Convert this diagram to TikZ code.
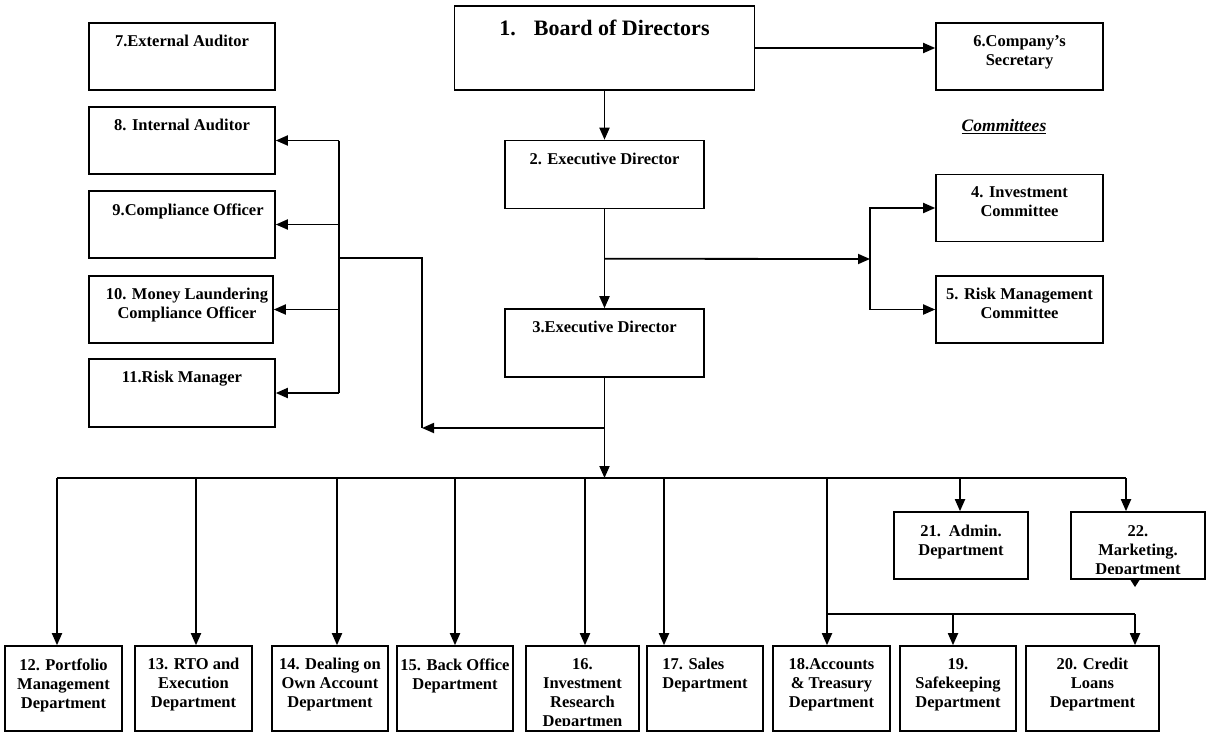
\documentclass[tikz,border=0pt]{standalone}
\usepackage{fontspec}
\setmainfont{Liberation Serif}
\usetikzlibrary{positioning, calc, arrows.meta}
\tikzset{
    orgbox/.style={rectangle, draw=black, line width=1.6pt, fill=white, inner sep=0pt},
    topbox/.style={orgbox, minimum width=186pt, minimum height=67pt},
    midbox/.style={orgbox, minimum width=199pt, minimum height=68pt},
    combox/.style={orgbox, minimum width=167pt, minimum height=67pt},
    depbox/.style={orgbox, minimum width=116pt, minimum height=85pt},
    sidebox/.style={orgbox, minimum width=134pt, minimum height=67pt},
    lbl/.style={anchor=north, align=center, inner sep=0pt, yshift=-13pt, font=\bfseries\fontsize{16.5}{19}\selectfont},
    wire/.style={line width=1.8pt, color=black},
    arrow/.style={wire, -{Triangle[length=12pt,width=10pt]}},
}

\begin{document}
\begin{tikzpicture}[x=1pt, y=-1pt]
    \useasboundingbox (0,0) rectangle (1207,734);

    % Vertice
    \node[orgbox, minimum width=300pt, minimum height=84pt,
          label={[lbl, font=\bfseries\fontsize{22}{26}\selectfont, yshift=-2pt]north:{1.\hspace{18pt}Board of Directors}}] (board) at (604.5,48) {};
    \node[combox, label={[lbl]north:{6.Company’s\\Secretary}}] (secr) at (1019.5,56.5) {};
    \node[midbox, label={[lbl]north:2. Executive Director}] (ed2) at (604.5,174.5) {};
    \node[midbox, label={[lbl]north:3.Executive Director}] (ed3) at (604.5,343) {};

    % Comitati
    \node[font=\bfseries\itshape\fontsize{17.5}{20}\selectfont] (committees) at (1004,127) {\underline{Committees}};
    \node[combox, label={[lbl]north:{4. Investment\\Committee}}] (invcom) at (1019.5,208) {};
    \node[combox, label={[lbl]north:{5. Risk Management\\Committee}}] (riskcom) at (1019.5,309.5) {};

    % Controlli (colonna sinistra)
    \node[topbox, label={[lbl]north:7.External Auditor}] (extaud) at (182,56.5) {};
    \node[topbox, label={[lbl]north:8. Internal Auditor}] (intaud) at (182,140.5) {};
    \node[topbox, label={[lbl, xshift=6pt]north:9.Compliance Officer}] (compl) at (182,224.5) {};
    \node[topbox, minimum width=184pt, label={[lbl, xshift=6pt]north:{10. Money Laundering\\Compliance Officer}}] (mlco) at (181,309.5) {};
    \node[topbox, minimum height=68pt, label={[lbl]north:11.Risk Manager}] (riskman) at (182,393) {};

    % Dipartimenti
    \node[depbox, minimum width=117pt, label={[lbl]north:{12. Portfolio\\Management\\Department}}] (port12) at (63.5,688.5) {};
    \node[depbox, minimum width=117pt, label={[lbl]north:{13. RTO and\\Execution\\Department}}] (rto13) at (193.5,688.5) {};
    \node[depbox, label={[lbl]north:{14. Dealing on\\Own Account\\Department}}] (deal14) at (330,688.5) {};
    \node[depbox, label={[lbl]north:{15. Back Office\\Department}}] (back15) at (455,688.5) {};
    \node[depbox, minimum width=113pt] (res16) at (582.5,688.5) {};
    \node[depbox, label={[lbl, align=left]north:{17. Sales\\Department}}] (sales17) at (705,688.5) {};
    \node[depbox, minimum width=117pt, label={[lbl]north:{18.Accounts\\\& Treasury\\Department}}] (acc18) at (831.5,688.5) {};
    \node[depbox, label={[lbl]north:{19.\\Safekeeping\\Department}}] (safe19) at (958,688.5) {};
    \node[depbox, minimum width=133pt, label={[lbl]north:{20. Credit\\Loans\\Department}}] (cred20) at (1092.5,688.5) {};
    \node[sidebox, label={[lbl, yshift=-1pt]north:{21.\hspace{8pt}Admin.\\Department}}] (adm21) at (961,545.5) {};
    \node[sidebox] (mkt22) at (1138,545.5) {};

    % Testi tagliati dal bordo
    \begin{scope}
        \clip ($(res16.north west)+(-5,0)$) rectangle ($(res16.south east)+(5,-6)$);
        \node[lbl] (res16txt) at (res16.north) {16.\\Investment\\Research\\Departmen};
    \end{scope}
    \begin{scope}
        \clip ($(mkt22.north west)+(-5,0)$) rectangle ($(mkt22.south east)+(5,-6)$);
        \node[lbl, yshift=-1pt] (mkt22txt) at (mkt22.north) {22.\\Marketing.\\Department};
    \end{scope}

    % Collegamenti in alto
    \draw[arrow] (board) -- (ed2);
    \draw[arrow] (board.east) -- (board.east -| secr.west);
    \draw[arrow] (ed2) -- (ed3);
    \coordinate (cbr) at ($(ed2.south)!0.5!(ed3.north)$);
    \coordinate (cfork) at (870,259);
    \draw[arrow] (cbr) -- (cfork);
    \draw[arrow] (cfork) |- (invcom.west);
    \draw[arrow] (cfork) |- (riskcom.west);

    % Bus di sinistra
    \coordinate (lbus) at (339,258);
    \coordinate (cturn) at (422,258);
    \coordinate (cleft) at (422,428);
    \draw[wire] (intaud.east -| lbus) -- (riskman.east -| lbus);
    \foreach \n in {intaud, compl, mlco, riskman}
        \draw[arrow] (\n.east -| lbus) -- (\n.east);
    \draw[wire] (lbus) -- (cturn) -- (cleft);
    \draw[arrow] (ed3.south |- cleft) -- (cleft);

    % Bus dei dipartimenti
    \coordinate (cbus) at (604.5,478);
    \draw[arrow] (ed3) -- (cbus);
    \draw[wire] (57,478) -- (1126,478);
    \foreach \n/\x in {port12/57, rto13/196, deal14/337, back15/455, res16/585, sales17/664, acc18/827, adm21/960, mkt22/1126} {
        \coordinate (t\n) at (\x,478);
        \draw[arrow] (t\n) -- (\n.north -| t\n);
    }
    \coordinate (csub) at (827,614);
    \draw[wire] (csub) -- (1135,614);
    \foreach \n/\x in {safe19/953, cred20/1135} {
        \coordinate (s\n) at (\x,614);
        \draw[arrow] (s\n) -- (\n.north -| s\n);
    }
    \fill (1130.5,580) -- (1139.5,580) -- (1135,587) -- cycle;

\end{tikzpicture}
\end{document}
